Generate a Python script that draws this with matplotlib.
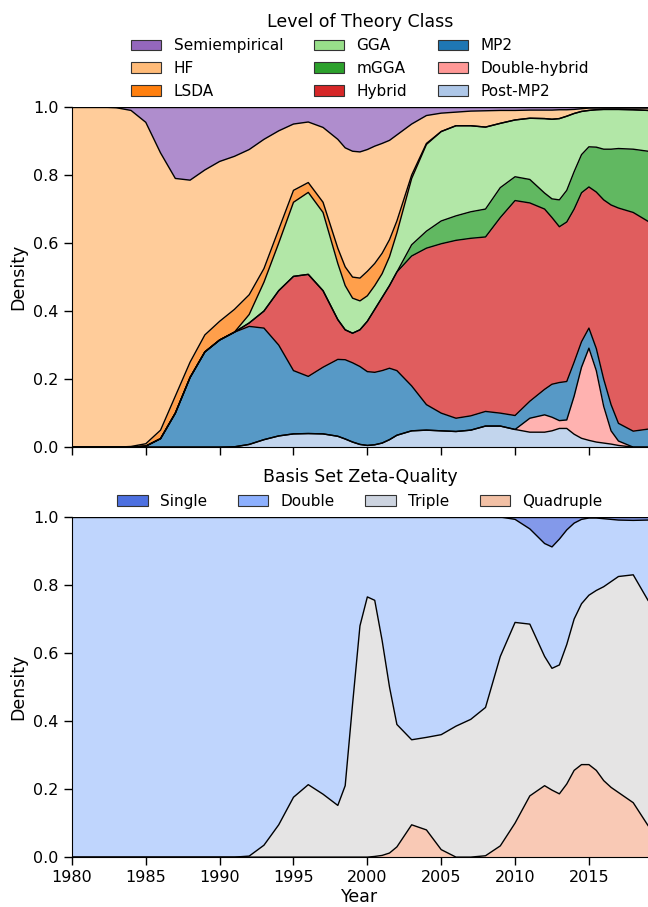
import numpy as np
import matplotlib
matplotlib.use('Agg')
import matplotlib.pyplot as plt
from matplotlib.patches import Patch

years = [1980, 1982, 1983, 1984, 1985, 1986, 1987, 1988, 1989, 1990,
         1991, 1992, 1993, 1994, 1995, 1996, 1997, 1998, 1998.5, 1999,
         1999.5, 2000, 2000.5, 2001, 2001.5, 2002, 2003, 2004, 2005, 2006,
         2007, 2008, 2009, 2010, 2011, 2012, 2012.5, 2013, 2013.5, 2014,
         2014.5, 2015, 2015.5, 2016, 2016.5, 2017, 2018, 2019]

# level of theory: upper edge of each stacked layer (cumulative share)
theory_classes = ['Semiempirical', 'HF', 'LSDA', 'GGA', 'mGGA', 'Hybrid',
                  'MP2', 'Double-hybrid', 'Post-MP2']
theory_colors = ['#9467bd', '#ffbb78', '#ff7f0e', '#98df8a', '#2ca02c',
                 '#d62728', '#1f77b4', '#ff9896', '#aec7e8']

hf_top = [1.0, 1.0, 0.998, 0.99, 0.955, 0.865, 0.79, 0.785, 0.815, 0.84,
          0.855, 0.875, 0.905, 0.93, 0.95, 0.956, 0.94, 0.905, 0.88, 0.87,
          0.868, 0.875, 0.885, 0.893, 0.902, 0.918, 0.95, 0.975, 0.982, 0.985,
          0.988, 0.989, 0.99, 0.99, 0.991, 0.991, 0.991, 0.992, 0.992, 0.993,
          0.995, 0.997, 0.997, 0.997, 0.997, 0.997, 0.997, 0.997]
lsda_top = [0, 0, 0, 0.002, 0.01, 0.05, 0.15, 0.25, 0.33, 0.37,
            0.405, 0.448, 0.525, 0.64, 0.755, 0.778, 0.72, 0.585, 0.53, 0.50,
            0.497, 0.517, 0.54, 0.57, 0.61, 0.665, 0.80, 0.893, 0.928, 0.945,
            0.945, 0.941, 0.952, 0.962, 0.967, 0.966, 0.964, 0.966, 0.973, 0.981,
            0.987, 0.99, 0.992, 0.993, 0.993, 0.993, 0.992, 0.99]
gga_top = [0, 0, 0, 0, 0.003, 0.025, 0.10, 0.205, 0.28, 0.315,
           0.338, 0.39, 0.485, 0.60, 0.72, 0.749, 0.69, 0.54, 0.475, 0.438,
           0.43, 0.445, 0.475, 0.51, 0.56, 0.63, 0.79, 0.89, 0.928, 0.945,
           0.945, 0.941, 0.952, 0.962, 0.967, 0.966, 0.964, 0.966, 0.973, 0.981,
           0.987, 0.99, 0.992, 0.993, 0.993, 0.993, 0.992, 0.99]
mgga_top = [0, 0, 0, 0, 0.003, 0.025, 0.10, 0.205, 0.28, 0.315,
            0.338, 0.365, 0.40, 0.46, 0.502, 0.508, 0.46, 0.375, 0.345, 0.335,
            0.345, 0.37, 0.405, 0.44, 0.475, 0.515, 0.595, 0.635, 0.665, 0.68,
            0.692, 0.70, 0.763, 0.795, 0.787, 0.747, 0.73, 0.727, 0.755, 0.81,
            0.86, 0.883, 0.882, 0.876, 0.876, 0.878, 0.876, 0.87]
hybrid_top = [0, 0, 0, 0, 0.003, 0.025, 0.10, 0.205, 0.28, 0.315,
              0.338, 0.365, 0.40, 0.46, 0.502, 0.508, 0.46, 0.375, 0.345, 0.335,
              0.345, 0.37, 0.405, 0.44, 0.475, 0.515, 0.562, 0.585, 0.598, 0.608,
              0.614, 0.618, 0.675, 0.725, 0.718, 0.70, 0.675, 0.648, 0.662, 0.70,
              0.748, 0.765, 0.75, 0.727, 0.712, 0.703, 0.69, 0.664]
mp2_top = [0, 0, 0, 0, 0.003, 0.025, 0.10, 0.205, 0.28, 0.315,
           0.338, 0.355, 0.35, 0.30, 0.225, 0.208, 0.235, 0.258, 0.257, 0.248,
           0.237, 0.222, 0.22, 0.225, 0.232, 0.225, 0.18, 0.125, 0.10, 0.085,
           0.092, 0.105, 0.10, 0.093, 0.135, 0.17, 0.185, 0.19, 0.193, 0.25,
           0.31, 0.35, 0.29, 0.20, 0.125, 0.07, 0.047, 0.053]
dh_top = [0, 0, 0, 0, 0, 0, 0, 0, 0, 0,
          0.001, 0.008, 0.022, 0.033, 0.039, 0.04, 0.039, 0.032, 0.024, 0.015,
          0.008, 0.005, 0.007, 0.012, 0.022, 0.035, 0.048, 0.05, 0.048, 0.046,
          0.05, 0.062, 0.062, 0.052, 0.085, 0.095, 0.088, 0.078, 0.08, 0.15,
          0.235, 0.291, 0.225, 0.12, 0.048, 0.018, 0.0, 0.0]
postmp2_top = [0, 0, 0, 0, 0, 0, 0, 0, 0, 0,
               0.001, 0.008, 0.022, 0.033, 0.039, 0.04, 0.039, 0.032, 0.024, 0.015,
               0.008, 0.005, 0.007, 0.012, 0.022, 0.035, 0.048, 0.05, 0.048, 0.046,
               0.05, 0.062, 0.062, 0.052, 0.044, 0.044, 0.048, 0.055, 0.055, 0.038,
               0.026, 0.02, 0.015, 0.012, 0.009, 0.005, 0.0, 0.0]

# basis set zeta quality
zeta_classes = ['Single', 'Double', 'Triple', 'Quadruple']
zeta_colors = ['#4d70e0', '#8db0fe', '#cdd4e0', '#f2c0a5']
double_top = [1.0] * 33 + [0.993, 0.965, 0.922, 0.912, 0.935, 0.962, 0.982,
                           0.993, 0.997, 0.997, 0.995, 0.993, 0.991, 0.99, 0.991]
triple_top = [0, 0, 0, 0, 0, 0, 0, 0, 0, 0,
              0, 0.003, 0.035, 0.095, 0.176, 0.213, 0.185, 0.152, 0.21, 0.45,
              0.68, 0.765, 0.755, 0.637, 0.50, 0.39, 0.345, 0.352, 0.36, 0.385,
              0.405, 0.44, 0.59, 0.69, 0.685, 0.59, 0.555, 0.565, 0.625, 0.70,
              0.745, 0.77, 0.784, 0.795, 0.81, 0.825, 0.83, 0.755]
quad_top = [0] * 22 + [0.002, 0.005, 0.012, 0.03, 0.095, 0.08, 0.022, 0.0,
                       0.0, 0.004, 0.033, 0.10, 0.18, 0.21, 0.197, 0.186, 0.215,
                       0.255, 0.272, 0.272, 0.255, 0.225, 0.205, 0.19, 0.16, 0.093]

# shades used inside the plot area
zeta_fill = plt.get_cmap('coolwarm')([0.1, 2/6, 3/6, 4/6])

x = np.array(years)
ones = np.ones(len(x))
zeros = np.zeros(len(x))


def draw_stack(ax, edges, colors):
    # edges go from the top (1.0) down to the bottom (0.0)
    for i, c in enumerate(colors):
        ax.fill_between(x, edges[i + 1], edges[i], color=c, alpha=0.75, lw=0)
    for e in edges[:-1]:
        ax.plot(x, e, color='black', lw=1.0)


fig = plt.figure(figsize=(6.48, 9.07), dpi=100)
ax1 = fig.add_axes([0.111, 0.507, 0.889, 0.375])
ax2 = fig.add_axes([0.111, 0.055, 0.889, 0.375])

theory_edges = [ones] + [np.array(a) for a in
                         [hf_top, lsda_top, gga_top, mgga_top, hybrid_top,
                          mp2_top, dh_top, postmp2_top]] + [zeros]
draw_stack(ax1, theory_edges, theory_colors)

zeta_edges = [ones] + [np.array(a) for a in [double_top, triple_top, quad_top]] + [zeros]
draw_stack(ax2, zeta_edges, zeta_fill)

for ax in (ax1, ax2):
    ax.set_xlim(1980, 2019)
    ax.set_ylim(0, 1)
    ax.set_xticks(range(1980, 2016, 5))
    ax.set_yticks([0, 0.2, 0.4, 0.6, 0.8, 1.0])
    ax.spines['top'].set_visible(False)
    ax.spines['right'].set_visible(False)
    ax.tick_params(labelsize=11.5, length=6, width=1)
    ax.set_ylabel('Density', fontsize=12.5)

ax1.set_xticklabels([])
ax2.set_xlabel('Year', fontsize=12.5, labelpad=2)

h1 = [Patch(facecolor=c, edgecolor='#333333', lw=0.8) for c in theory_colors]
ax1.legend(h1, theory_classes, loc='lower center', bbox_to_anchor=(0.5, 1.0),
           ncol=3, frameon=False, fontsize=11, title='Level of Theory Class',
           title_fontsize=12.5, labelspacing=0.5, borderaxespad=0.15)

h2 = [Patch(facecolor=c, edgecolor='#333333', lw=0.8) for c in zeta_colors]
ax2.legend(h2, zeta_classes, loc='lower center', bbox_to_anchor=(0.5, 1.0),
           ncol=4, frameon=False, fontsize=11, title='Basis Set Zeta-Quality',
           title_fontsize=12.5, borderaxespad=0.15)

fig.savefig('out.png', dpi=100)
